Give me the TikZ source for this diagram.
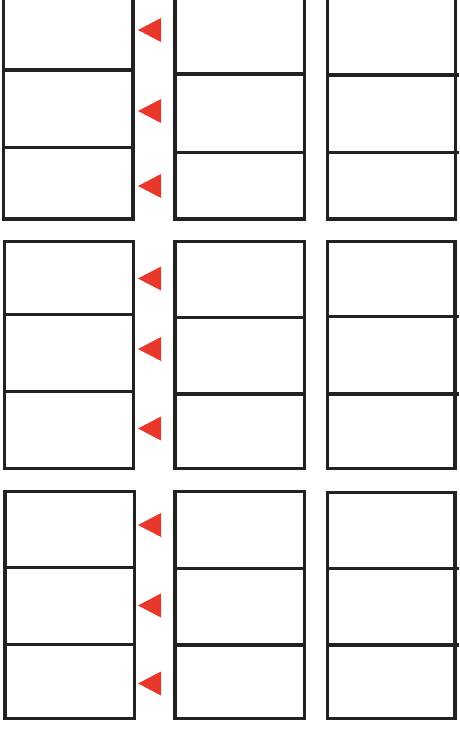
\documentclass[tikz,border=0pt]{standalone}
\usetikzlibrary{calc}
\definecolor{frame}{HTML}{222222}
\definecolor{mark}{HTML}{E8372B}
\tikzset{
  boxline/.style={draw=frame,line width=3.3pt,line join=miter},
  divline/.style={draw=frame,line width=3.3pt},
  redtri/.style={fill=mark,draw=none}
}
% #1 left x, #2 right x, #3 top y, #4 first divider, #5 second divider, #6 bottom y, #7 divider right end
\newcommand{\tribox}[7]{%
  \draw[boxline] (#1,#3) rectangle (#2,#6);
  \draw[divline] (#1,#4) -- (#7,#4);
  \draw[divline] (#1,#5) -- (#7,#5);
}
\newcommand{\redmark}[2]{%
  \fill[redtri] (138,#2) -- (161,#2-12) -- (161,#2+12) -- cycle;
}
\begin{document}
\begin{tikzpicture}[x=1pt,y=-1pt]
\useasboundingbox (0,0) rectangle (459,733);
\clip (0,0) rectangle (459,733);
\fill[white] (0,0) rectangle (459,733);
% row 1
\tribox{3.5}{133}{-10}{70}{147.5}{219}{133}
\tribox{175}{304.5}{-10}{74}{152.5}{219}{306}
\tribox{327.5}{455.5}{-10}{75}{152.5}{219}{459}
% row 2
\tribox{4.5}{133.5}{241.5}{314.5}{391.5}{468.5}{133.5}
\tribox{175}{304.5}{241.5}{317.5}{394}{468.5}{306}
\tribox{327.5}{455}{241.5}{316.5}{394}{468.5}{459}
% row 3
\tribox{5}{134.5}{491.5}{567.5}{644.5}{718.5}{134.5}
\tribox{175}{304.5}{491.5}{568.5}{645}{718.5}{306}
\tribox{327.5}{455}{492.5}{568.5}{645}{718.5}{459}
% red markers
\redmark{}{30}
\redmark{}{111}
\redmark{}{186}
\redmark{}{278.5}
\redmark{}{349}
\redmark{}{428.5}
\redmark{}{525}
\redmark{}{605.5}
\redmark{}{683.5}
\end{tikzpicture}
\end{document}
